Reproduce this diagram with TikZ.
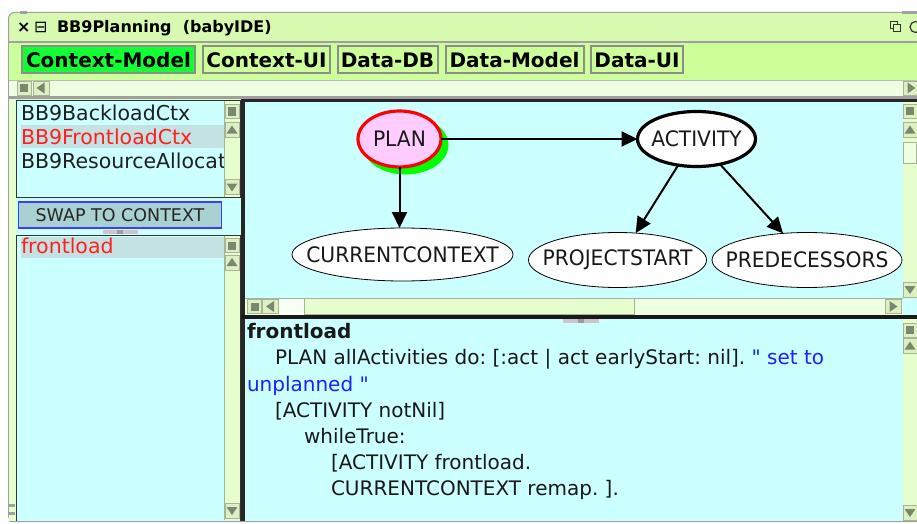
\documentclass[tikz,border=0pt]{standalone}
\usepackage{fontspec}
\setmainfont{DejaVu Sans}
\newfontfamily\graphfont{DejaVu Sans}[FakeStretch=0.95]
\newfontfamily\codefont{DejaVu Sans}[Ligatures=TeXOff]
\usetikzlibrary{shapes.geometric,arrows.meta}
\frenchspacing

\definecolor{titlebg}{HTML}{D8FAB0}
\definecolor{tabbg}{HTML}{CCFF99}
\definecolor{track}{HTML}{E6FECE}
\definecolor{tracklite}{HTML}{EEFFE2}
\definecolor{btnbg}{HTML}{DDF0C2}
\definecolor{btnline}{HTML}{A8B498}
\definecolor{glyph}{HTML}{7A8870}
\definecolor{pane}{HTML}{CCFFFF}
\definecolor{selrow}{HTML}{C4E2E2}
\definecolor{swapbg}{HTML}{A9D1D1}
\definecolor{swapline}{HTML}{3C3CFF}
\definecolor{tabgreen}{HTML}{14FF33}
\definecolor{tabline}{HTML}{8C8C8C}
\definecolor{framegray}{HTML}{A0A0A0}
\definecolor{handlelite}{HTML}{C8C8C8}
\definecolor{handledark}{HTML}{9C9C9C}
\definecolor{redsel}{HTML}{FF1F1F}
\definecolor{comment}{HTML}{1F1FFF}
\definecolor{planfill}{HTML}{FFCCFF}
\definecolor{shadowgreen}{HTML}{00FF00}

% label of fixed-size ellipse nodes: zero width, so the ellipse keeps its set size
\newcommand\glabel[1]{\makebox[0pt][c]{#1}}

\tikzset{
  btn/.style={fill=btnbg, draw=btnline, line width=0.8pt},
  pics/sqbtn/.style={code={\filldraw[btn] (-7,-7) rectangle (7,7); \fill[glyph] (-4,-4) rectangle (4,4);}},
  pics/upbtn/.style={code={\filldraw[btn] (-7,-7.5) rectangle (7,7.5); \fill[glyph] (-5.5,3.5) -- (5.5,3.5) -- (0,-4.5) -- cycle;}},
  pics/dnbtn/.style={code={\filldraw[btn] (-7,-7.5) rectangle (7,7.5); \fill[glyph] (-5.5,-3.5) -- (5.5,-3.5) -- (0,4.5) -- cycle;}},
  pics/ltbtn/.style={code={\filldraw[btn] (-8,-7) rectangle (8,7); \fill[glyph] (3.5,-5.5) -- (3.5,5.5) -- (-4.5,0) -- cycle;}},
  pics/rtbtn/.style={code={\filldraw[btn] (-8,-7) rectangle (8,7); \fill[glyph] (-3.5,-5.5) -- (-3.5,5.5) -- (4.5,0) -- cycle;}},
}

\begin{document}
\begin{tikzpicture}[x=1pt,y=-1pt,
  every node/.style={inner sep=0pt, outer sep=0pt},
  tab/.style={draw=tabline, line width=2pt, fill=tabbg, font=\bfseries\fontsize{20}{24}\selectfont, minimum height=27pt, anchor=north west},
  listtext/.style={anchor=base west, font=\fontsize{20.5}{24}\selectfont, text=black!88},
  code/.style={anchor=base west, font=\codefont\frenchspacing\fontsize{20}{24}\selectfont, text=black!90},
  gnode/.style={ellipse, draw=black, line width=0.8pt, fill=white, font=\graphfont\fontsize{21.3}{24}\selectfont, text=black!90},
  edge/.style={line width=2pt, -{Triangle[length=16pt,width=15pt]}},
]
\useasboundingbox (0,0) rectangle (917,524);
\fill[white] (0,0) rectangle (917,524);
\clip (0,0) rectangle (917,524);

% window body and title bar
\filldraw[fill=titlebg, draw=framegray, line width=1pt, rounded corners=6pt] (8.5,12.5) rectangle (930,521.5);
\fill[framegray] (20,11.5) rectangle (27,14.5);
\fill[framegray] (902,11.5) rectangle (917,14.5);
\node[anchor=base west, font=\bfseries\fontsize{16}{19}\selectfont] (closex) at (17,33) {×};
\node[anchor=base west, font=\fontsize{16}{19}\selectfont] (menubox) at (34,33) {⊟};
\node[anchor=base west, font=\bfseries\fontsize{16}{19}\selectfont] (title) at (57,33) {BB9Planning\ \ (babyIDE)};
\draw[black!80, line width=1pt] (890,21.5) rectangle (897,28.5);
\filldraw[fill=titlebg, draw=black!80, line width=1pt] (893,24.5) rectangle (900,31.5);
\draw[black!80, line width=1.2pt] (915.5,27) circle (5.5);

% category tabs
\fill[tabbg] (9,42) rectangle (917,80);
\draw[framegray, line width=1.2pt] (9,42) -- (917,42);
\node[tab, fill=tabgreen, minimum width=173pt] (tcm) at (22,46.5) {Context-Model};
\node[tab, minimum width=127pt] (tcu) at (203,46.5) {Context-UI};
\node[tab, minimum width=100pt] (tdb) at (337.5,46.5) {Data-DB};
\node[tab, minimum width=138pt] (tdm) at (445.5,46.5) {Data-Model};
\node[tab, minimum width=92pt] (tdu) at (591,46.5) {Data-UI};

% horizontal scrollbar under the tabs
\fill[tracklite] (9,80) rectangle (917,96);
\draw[framegray!70, line width=0.8pt] (9,80) -- (917,80);
\pic at (24,88) {sqbtn};
\pic at (41,88) {ltbtn};
\pic at (911,88) {rtbtn};
\fill[framegray] (9,96) rectangle (917,99.5);

% left strip and left column
\fill[track] (9,99.5) rectangle (16,521);
\fill[framegray] (9,504) rectangle (15,507);
\fill[framegray] (9,512) rectangle (15,515);
\fill[pane] (16,100) rectangle (241,521);

% class list
\fill[selrow] (21,125) rectangle (224,148);
\node[listtext] (cls1) at (21,121) {BB9BackloadCtx};
\node[listtext, text=redsel] (cls2) at (21,144) {BB9FrontloadCtx};
\node[listtext] (cls3) at (21,168) {BB9ResourceAllocat};
\fill[track] (224,101) rectangle (240,197);
\draw[btnline, line width=0.6pt] (224,101) -- (224,197);
\pic at (232,111.5) {sqbtn};
\pic at (232,130) {upbtn};
\pic at (232,187) {dnbtn};
\draw[black!80, line width=1pt] (16.5,101) rectangle (240,197.5);

% swap button
\node[draw=swapline, fill=swapbg, line width=1.5pt, minimum width=203pt, minimum height=26pt,
      anchor=north west, font=\fontsize{17.5}{20}\selectfont, text=black!85] (swap) at (18.5,202) {SWAP TO CONTEXT};
\fill[handlelite] (103,230) rectangle (138,234);
\fill[handledark] (117,230) rectangle (123,234);

% method list
\fill[selrow] (21,237) rectangle (224,258);
\node[listtext, text=redsel] (meth1) at (21,253) {frontload};
\fill[track] (224,236) rectangle (240,520);
\draw[btnline, line width=0.6pt] (224,236) -- (224,520);
\pic at (232,245.5) {sqbtn};
\pic at (232,262.5) {upbtn};
\pic at (232,510.5) {dnbtn};
\draw[black!80, line width=1pt] (16.5,235.5) rectangle (240,521);

% divider between columns
\fill[black!85] (241,99.5) rectangle (244.5,521);

% graph pane
\fill[pane] (244.5,102) rectangle (917,315);
\fill[black!85] (241,99.5) rectangle (917,102);
\fill[track] (903,102) rectangle (917,298);
\pic at (910,111) {sqbtn};
\pic at (910,130) {upbtn};
\filldraw[fill=tracklite, draw=btnline, line width=0.8pt] (903.5,142) rectangle (916.5,163);
\pic at (910,289.5) {dnbtn};
\fill[tracklite] (244.5,298) rectangle (903,315);
\draw[btnline, line width=0.8pt] (244.5,298) -- (903,298);
\pic at (254.5,306.5) {sqbtn};
\pic at (270.5,306.5) {ltbtn};
\fill[white!60!tracklite] (279,298.5) rectangle (304,314.5);
\filldraw[fill=track, draw=btnline, line width=0.8pt] (304,298.5) rectangle (634,314.5);
\pic at (893,306.5) {rtbtn};

% graph of context roles
\fill[shadowgreen] (405.5,145) ellipse [x radius=43, y radius=29.5];
\node[gnode, draw=red, fill=planfill, line width=3.2pt, minimum width=83pt, minimum height=56pt] (plan) at (399.5,139) {\glabel{PLAN}};
\node[gnode, line width=3.2pt, minimum width=118pt, minimum height=55pt] (act) at (696.5,139) {\glabel{ACTIVITY}};
\node[gnode, minimum width=221pt, minimum height=53pt] (cc) at (402.5,254.5) {\glabel{CURRENTCONTEXT}};
\node[gnode, minimum width=178pt, minimum height=55pt] (ps) at (617.5,260) {\glabel{PROJECTSTART}};
\node[gnode, minimum width=190pt, minimum height=55pt] (pred) at (807,260) {\glabel{PREDECESSORS}};
\draw[edge] (plan) -- (act);
\draw[edge] (plan) -- (plan |- cc.north);
\draw[edge] (act.235) -- (ps.56);
\draw[edge] (act.313) -- (pred.132);

% divider and code pane
\fill[black!90] (241,315) rectangle (917,318.5);
\fill[pane] (244.5,318.5) rectangle (917,521);
\fill[track] (903,318.5) rectangle (917,520);
\pic at (910,330) {sqbtn};
\pic at (910,346) {upbtn};
\pic at (910,512.5) {dnbtn};
\fill[handlelite] (563,319) rectangle (599,322.5);
\fill[handledark] (578,319) rectangle (584,322.5);

\node[code, font=\codefont\frenchspacing\bfseries\fontsize{20}{24}\selectfont] (c0) at (247,338.5) {frontload};
\node[code] (c1) at (275,364.5) {PLAN allActivities do: [:act | act earlyStart: nil]. \textcolor{comment}{" set to}};
\node[code, text=comment] (c2) at (247,391) {unplanned "};
\node[code] (c3) at (275,417) {[ACTIVITY notNil]};
\node[code] (c4) at (304,443) {whileTrue:};
\node[code] (c5) at (331,469) {[ACTIVITY frontload.};
\node[code] (c6) at (331,495) {CURRENTCONTEXT remap. ].};

\draw[framegray, line width=1pt] (8.5,521.5) -- (917,521.5);
\end{tikzpicture}
\end{document}
